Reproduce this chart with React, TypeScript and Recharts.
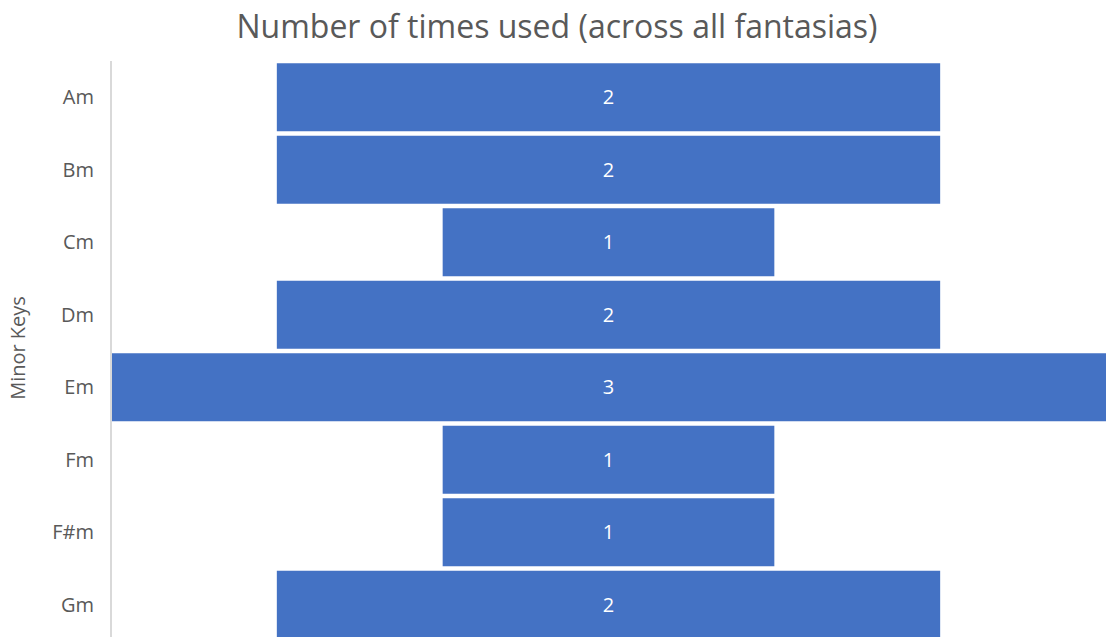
import { BarChart, Bar, XAxis, YAxis, LabelList } from "recharts";

// minor keys, top to bottom
const keys = ["Am", "Bm", "Cm", "Dm", "Em", "Fm", "F#m", "Gm"];
const timesUsed = [2, 2, 1, 2, 3, 1, 1, 2];
const maxValue = 3;

// funnel look: an invisible spacer pushes each bar to the centre
const data = keys.map((k, i) => ({
  key: k,
  pad: (maxValue - timesUsed[i]) / 2,
  value: timesUsed[i],
}));

const FONT = "'Open Sans', 'Noto Sans', sans-serif";

export default function App() {
  return (
    <div style={{ position: "absolute", left: 0, top: 0, width: 1108, height: 637, overflow: "hidden", background: "#fff" }}>
      <div
        style={{
          position: "absolute",
          left: 0,
          top: 4,
          width: 1114,
          textAlign: "center",
          fontFamily: FONT,
          fontSize: 32,
          color: "#595959",
        }}
      >
        Number of times used (across all fantasias)
      </div>
      <BarChart
        width={1108}
        height={641}
        data={data}
        layout="vertical"
        margin={{ top: 61, right: 2, bottom: 0, left: 0 }}
        barCategoryGap="3%"
      >
        <XAxis type="number" domain={[0, maxValue]} hide />
        <YAxis
          type="category"
          dataKey="key"
          width={111}
          axisLine={{ stroke: "#d9d9d9", strokeWidth: 2 }}
          tickLine={false}
          tickSize={0}
          tickMargin={17}
          tick={{ fill: "#595959", fontSize: 20, fontFamily: FONT }}
          label={{
            content: ({ viewBox }: any) => {
              const cy = viewBox.y + viewBox.height / 2 - 3;
              return (
                <text
                  x={25}
                  y={cy}
                  transform={`rotate(-90, 25, ${cy})`}
                  textAnchor="middle"
                  fill="#595959"
                  fontSize={20}
                  fontFamily={FONT}
                >
                  Minor Keys
                </text>
              );
            },
          }}
        />
        <Bar dataKey="pad" stackId="a" fill="transparent" isAnimationActive={false} />
        <Bar dataKey="value" stackId="a" fill="#4472C4" isAnimationActive={false}>
          <LabelList dataKey="value" position="center" fill="#ffffff" fontSize={20} fontFamily={FONT} />
        </Bar>
      </BarChart>
    </div>
  );
}
